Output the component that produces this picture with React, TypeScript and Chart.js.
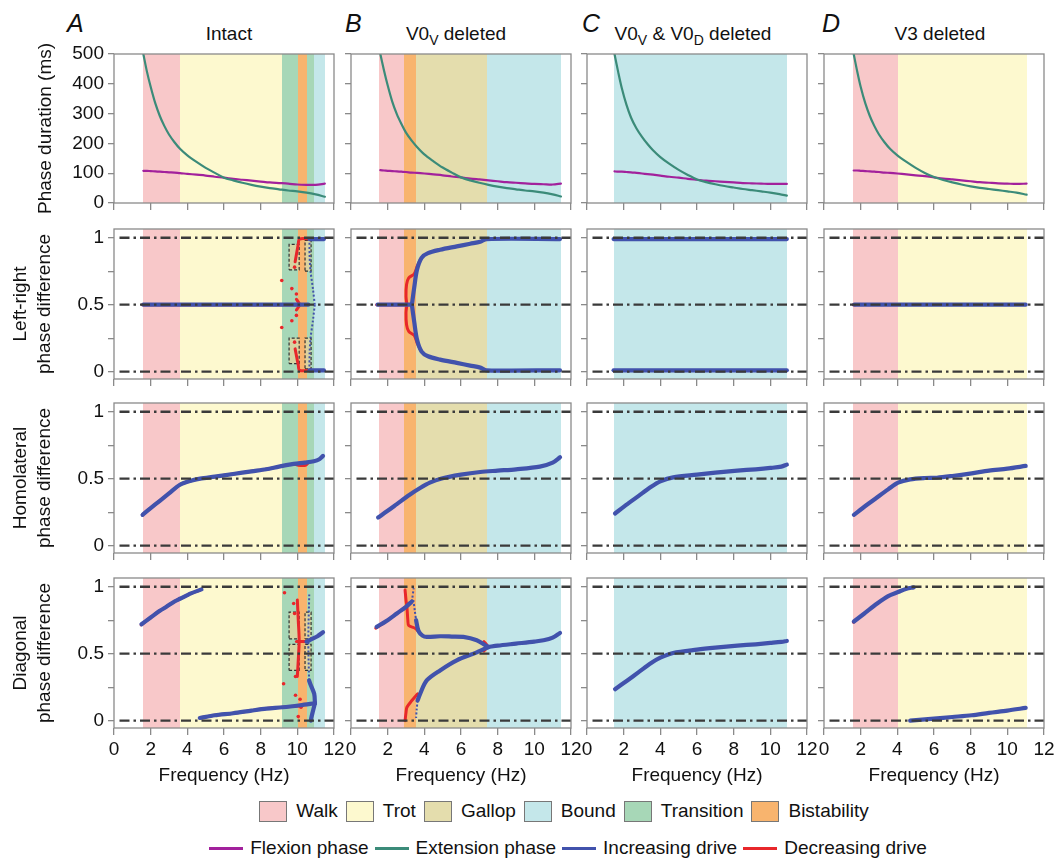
import React, { useEffect, useRef } from "react";
import { Chart, registerables } from "chart.js";

Chart.register(...registerables);
const FONT = "'Liberation Sans', Arial, Helvetica, sans-serif";
Chart.defaults.font.family = FONT;
Chart.defaults.color = "#111";

type Pt = [number, number];
type Band = [number, number, string];
type Box = [number, number, number, number];

// ---------------- axis ticks ----------------
const FREQ_TICKS = [0, 2, 4, 6, 8, 10, 12];
const FREQ_TICK_LABELS = ["0", "2", "4", "6", "8", "10", "12"];
const DURATION_TICKS = [0, 100, 200, 300, 400, 500];
const DURATION_TICK_LABELS = ["0", "100", "200", "300", "400", "500"];
const PHASE_TICKS = [0, 0.25, 0.5, 0.75, 1];
const PHASE_TICK_LABELS = ["0", "", "0.5", "", "1"];
const REFERENCE_LEVELS = [0, 0.5, 1];
const REFERENCE_START_HZ = 0.3;

const ROW_TITLES = [
  ["Phase duration (ms)"],
  ["Left-right", "phase difference"],
  ["Homolateral", "phase difference"],
  ["Diagonal", "phase difference"],
];
const COLUMN_LETTERS = ["A", "B", "C", "D"];
const GAITS = ["Walk", "Trot", "Gallop", "Bound", "Transition", "Bistability"];
const LINE_LEGEND = ["Flexion phase", "Extension phase", "Increasing drive", "Decreasing drive"];

// ---------------- gait regions (Hz) ----------------
const BANDS_A: Band[] = [[1.6, 3.6, "Walk"], [3.6, 9.15, "Trot"], [9.15, 10.05, "Transition"], [10.05, 10.5, "Bistability"], [10.5, 10.9, "Transition"], [10.9, 11.5, "Bound"]];
const BANDS_B: Band[] = [[1.55, 2.9, "Walk"], [2.9, 3.55, "Bistability"], [3.55, 7.43, "Gallop"], [7.43, 11.45, "Bound"]];
const BANDS_C: Band[] = [[1.45, 10.92, "Bound"]];
const BANDS_D: Band[] = [[1.6, 4.02, "Walk"], [4.02, 11.05, "Trot"]];

// ---------------- phase durations (ms) ----------------
const DUR_FREQ_A = [1.6, 1.8, 2.0, 2.25, 2.5, 2.75, 3.0, 3.3, 3.6, 4.0, 4.5, 5.0, 5.5, 6.0, 6.5, 7.0, 7.5, 8.0, 8.5, 9.0, 9.5, 10.0, 10.5, 11.0, 11.5];
const EXT_A = [500, 440, 390, 335, 292, 258, 230, 204, 182, 160, 138, 118, 101, 85, 76, 68, 61, 55, 50, 46, 42, 39, 35, 29, 21];
const FLEX_A = [108, 108, 107, 106, 105, 104, 103, 102, 100, 98, 95, 92, 88, 85, 81, 78, 75, 72, 69, 67, 65, 62, 61, 61, 65];
const DUR_FREQ_B = [1.6, 1.8, 2.0, 2.25, 2.5, 2.75, 3.0, 3.3, 3.6, 4.0, 4.5, 5.0, 5.5, 6.0, 6.5, 7.0, 7.5, 8.0, 8.5, 9.0, 9.5, 10.0, 10.5, 11.0, 11.45];
const EXT_B = [500, 445, 395, 340, 298, 265, 236, 210, 188, 163, 140, 119, 102, 86, 76, 68, 61, 55, 50, 46, 42, 39, 35, 29, 22];
const FLEX_B = [110, 109, 108, 107, 106, 105, 104, 102, 101, 99, 96, 93, 89, 86, 82, 79, 76, 73, 70, 68, 66, 64, 63, 62, 65];
const DUR_FREQ_C = [1.5, 1.7, 1.9, 2.15, 2.4, 2.7, 3.0, 3.3, 3.6, 4.0, 4.5, 5.0, 5.5, 6.0, 6.5, 7.0, 7.5, 8.0, 8.5, 9.0, 9.5, 10.0, 10.5, 10.9];
const EXT_C = [500, 440, 385, 330, 287, 250, 222, 198, 177, 154, 131, 111, 94, 79, 70, 63, 57, 52, 47, 43, 39, 35, 30, 25];
const FLEX_C = [106, 105, 105, 104, 103, 101, 99, 97, 95, 92, 88, 85, 81, 78, 75, 73, 71, 69, 67, 66, 65, 64, 64, 64];
const DUR_FREQ_D = [1.62, 1.8, 2.0, 2.25, 2.5, 2.75, 3.0, 3.3, 3.6, 4.0, 4.5, 5.0, 5.5, 6.0, 6.5, 7.0, 7.5, 8.0, 8.5, 9.0, 9.5, 10.0, 10.5, 11.05];
const EXT_D = [500, 445, 390, 335, 292, 258, 230, 204, 182, 160, 138, 118, 101, 87, 77, 69, 62, 56, 51, 47, 43, 39, 35, 28];
const FLEX_D = [109, 109, 108, 107, 106, 105, 104, 102, 101, 99, 96, 93, 90, 86, 82, 79, 76, 73, 70, 68, 66, 65, 64, 65];

// ---------------- left-right phase difference ----------------
const LR_A_INC_MAIN: Pt[] = [[1.6, 0.5], [10.6, 0.5]];
const LR_A_INC_UP: Pt[] = [[10.95, 0.5], [10.85, 0.62], [10.72, 0.75], [10.67, 0.86], [10.66, 0.98]];
const LR_A_INC_DN: Pt[] = [[10.95, 0.5], [10.85, 0.38], [10.72, 0.25], [10.67, 0.14], [10.66, 0.02]];
const LR_A_INC_TOP: Pt[] = [[10.66, 0.99], [11.45, 0.99]];
const LR_A_INC_BOT: Pt[] = [[10.66, 0.01], [11.45, 0.01]];
const LR_A_DEC_MAIN: Pt[] = [[1.55, 0.5], [10.1, 0.5]];
const LR_A_DEC_TIP: Pt[] = [[9.95, 0.54], [10.12, 0.5], [9.95, 0.46]];
const LR_A_DEC_TOP: Pt[] = [[9.88, 0.82], [10.05, 0.95], [10.12, 0.99], [10.75, 0.99]];
const LR_A_DEC_BOT: Pt[] = [[9.88, 0.17], [10.05, 0.05], [10.12, 0.01], [10.75, 0.01]];
const LR_A_DEC_DOTS: Pt[] = [[9.15, 0.68], [9.7, 0.62], [9.95, 0.58], [9.95, 0.42], [9.7, 0.38], [9.15, 0.33], [9.85, 0.78], [9.85, 0.22]];
const LR_A_BOXES: Box[] = [[9.55, 10.1, 0.76, 0.95], [10.42, 10.75, 0.75, 0.98], [9.55, 10.1, 0.06, 0.25], [10.42, 10.75, 0.02, 0.25]];

const LR_B_INC_MAIN: Pt[] = [[1.45, 0.5], [3.32, 0.5]];
const LR_B_INC_UP: Pt[] = [[3.32, 0.5], [3.45, 0.63], [3.6, 0.76], [3.85, 0.85], [4.2, 0.885], [4.86, 0.91], [5.77, 0.935], [6.5, 0.955], [7.05, 0.97], [7.4, 0.99], [11.4, 0.99]];
const LR_B_INC_DN: Pt[] = [[3.32, 0.5], [3.45, 0.37], [3.6, 0.24], [3.85, 0.15], [4.2, 0.115], [4.86, 0.09], [5.77, 0.065], [6.5, 0.045], [7.05, 0.03], [7.4, 0.01], [11.4, 0.01]];
const LR_B_DEC_MAIN: Pt[] = [[1.4, 0.5], [3.05, 0.5]];
const LR_B_DEC_UP: Pt[] = [[3.05, 0.5], [3.0, 0.56], [3.03, 0.65], [3.15, 0.7], [3.45, 0.73], [3.62, 0.79], [3.8, 0.84]];
const LR_B_DEC_DN: Pt[] = [[3.05, 0.5], [3.0, 0.44], [3.03, 0.35], [3.15, 0.3], [3.45, 0.27], [3.62, 0.21], [3.8, 0.16]];

const LR_C_INC_UP: Pt[] = [[1.45, 0.99], [10.9, 0.99]];
const LR_C_INC_DN: Pt[] = [[1.45, 0.01], [10.9, 0.01]];

const LR_D_INC: Pt[] = [[1.65, 0.5], [11.0, 0.5]];
const LR_D_DEC: Pt[] = [[1.6, 0.5], [1.7, 0.5]];

// ---------------- homolateral phase difference ----------------
const HOMO_A: Pt[] = [[1.56, 0.23], [2.0, 0.28], [2.5, 0.335], [3.0, 0.39], [3.6, 0.455], [4.2, 0.485], [4.7, 0.5], [5.5, 0.515], [6.5, 0.535], [7.5, 0.555], [8.3, 0.57], [9.0, 0.59], [9.8, 0.61], [10.4, 0.62], [10.9, 0.63], [11.2, 0.645], [11.4, 0.67]];
const HOMO_A_DEC: Pt[] = [[1.55, 0.23], [2.0, 0.28], [2.5, 0.335], [3.0, 0.39], [3.6, 0.455], [4.2, 0.485], [4.7, 0.5], [5.5, 0.515], [6.5, 0.535], [7.5, 0.555], [8.3, 0.57], [9.0, 0.59], [9.8, 0.61], [10.05, 0.6], [10.45, 0.6], [10.6, 0.62]];
const HOMO_B: Pt[] = [[1.48, 0.21], [2.0, 0.26], [2.5, 0.31], [3.2, 0.38], [3.77, 0.43], [4.3, 0.47], [4.9, 0.5], [6.0, 0.53], [7.05, 0.55], [8.0, 0.56], [9.0, 0.57], [10.3, 0.59], [11.0, 0.62], [11.4, 0.66]];
const HOMO_C: Pt[] = [[1.53, 0.24], [2.2, 0.31], [2.8, 0.37], [3.5, 0.44], [4.0, 0.48], [4.7, 0.51], [6.0, 0.53], [7.0, 0.545], [8.2, 0.56], [9.2, 0.57], [10.0, 0.58], [10.6, 0.59], [10.9, 0.605]];
const HOMO_D: Pt[] = [[1.63, 0.23], [2.2, 0.29], [2.8, 0.35], [3.5, 0.42], [4.04, 0.47], [4.7, 0.495], [5.5, 0.505], [6.16, 0.507], [7.0, 0.52], [8.06, 0.54], [9.0, 0.56], [10.0, 0.575], [11.0, 0.595]];

// ---------------- diagonal phase difference ----------------
const DIAG_A_UP: Pt[] = [[1.5, 0.72], [2.0, 0.77], [2.5, 0.82], [2.86, 0.85], [3.3, 0.89], [3.6, 0.91], [4.2, 0.95], [4.77, 0.98]];
const DIAG_A_LOW: Pt[] = [[4.68, 0.02], [5.5, 0.04], [6.5, 0.055], [7.5, 0.075], [8.32, 0.09], [9.2, 0.1], [10.15, 0.115], [10.96, 0.13]];
const DIAG_A_HOOK_DN: Pt[] = [[10.96, 0.13], [10.85, 0.07], [10.76, 0.02], [10.74, 0.0]];
const DIAG_A_HOOK_UP: Pt[] = [[10.96, 0.13], [10.92, 0.2], [10.72, 0.27], [10.64, 0.3]];
const DIAG_A_VERT: Pt[] = [[10.64, 0.3], [10.6, 0.6], [10.65, 0.95]];
const DIAG_A_RIGHT: Pt[] = [[10.5, 0.59], [10.8, 0.61], [11.1, 0.63], [11.4, 0.66]];
const DIAG_A_DEC_UP: Pt[] = [[1.48, 0.715], [2.0, 0.77], [2.5, 0.82], [2.86, 0.85], [3.3, 0.89], [3.6, 0.91], [4.2, 0.95], [4.7, 0.975]];
const DIAG_A_DEC_LOW: Pt[] = [[4.7, 0.02], [5.5, 0.04], [6.5, 0.055], [7.5, 0.075], [8.32, 0.09], [9.2, 0.1], [10.1, 0.11]];
const DIAG_A_DEC_VERT: Pt[] = [[10.0, 0.9], [10.05, 0.75], [10.1, 0.6], [10.05, 0.45], [10.0, 0.33]];
const DIAG_A_DEC_HORZ: Pt[] = [[9.95, 0.59], [10.55, 0.59]];
const DIAG_A_DEC_DOTS: Pt[] = [[9.3, 0.955], [9.8, 0.875], [9.85, 0.8], [9.9, 0.33], [9.25, 0.275], [9.9, 0.19], [10.15, 0.16], [10.2, 0.1], [10.05, 0.03]];
const DIAG_A_BOXES: Box[] = [[9.55, 10.1, 0.61, 0.81], [10.42, 10.75, 0.61, 0.81], [9.55, 10.1, 0.375, 0.57], [10.42, 10.75, 0.375, 0.57]];

const DIAG_B_UP: Pt[] = [[1.4, 0.7], [2.0, 0.75], [2.5, 0.8], [3.0, 0.85], [3.32, 0.89]];
const DIAG_B_UP_TAIL: Pt[] = [[3.32, 0.89], [3.42, 0.99]];
const DIAG_B_DROP: Pt[] = [[3.4, 0.9], [3.48, 0.82], [3.55, 0.75]];
const DIAG_B_MID: Pt[] = [[3.55, 0.75], [3.68, 0.67], [3.9, 0.635], [4.13, 0.625], [4.86, 0.63], [5.5, 0.628], [6.13, 0.625], [6.86, 0.6], [7.3, 0.565], [7.5, 0.55]];
const DIAG_B_RIGHT: Pt[] = [[7.5, 0.55], [8.0, 0.56], [9.0, 0.575], [10.0, 0.59], [10.5, 0.6], [11.0, 0.62], [11.4, 0.655]];
const DIAG_B_LOWER: Pt[] = [[7.5, 0.55], [6.86, 0.51], [5.77, 0.45], [4.86, 0.375], [4.13, 0.3], [3.77, 0.2], [3.63, 0.15]];
const DIAG_B_LOWER_TAIL: Pt[] = [[3.63, 0.15], [3.58, 0.08], [3.55, 0.02]];
const DIAG_B_DEC_LEFT: Pt[] = [[1.35, 0.69], [2.0, 0.75], [2.5, 0.8], [3.0, 0.85], [3.3, 0.885]];
const DIAG_B_DEC_UPPER: Pt[] = [[2.95, 0.975], [3.0, 0.9], [3.05, 0.85], [3.1, 0.75], [3.15, 0.71], [3.5, 0.69], [3.7, 0.66]];
const DIAG_B_DEC_LOWER: Pt[] = [[2.95, 0.0], [3.0, 0.06], [3.05, 0.1], [3.32, 0.15], [3.63, 0.2]];
const DIAG_B_DEC_NOTCH: Pt[] = [[7.25, 0.59], [7.45, 0.555], [7.25, 0.52]];

const DIAG_C: Pt[] = [[1.53, 0.235], [2.2, 0.3], [2.8, 0.36], [3.5, 0.43], [4.0, 0.47], [4.7, 0.505], [6.0, 0.53], [7.0, 0.545], [8.2, 0.56], [9.2, 0.57], [10.0, 0.58], [10.6, 0.588], [10.9, 0.595]];
const DIAG_D_UP: Pt[] = [[1.63, 0.74], [2.2, 0.8], [2.9, 0.875], [3.5, 0.93], [4.04, 0.96], [4.5, 0.985], [4.89, 0.995]];
const DIAG_D_LOW: Pt[] = [[4.7, 0.0], [6.0, 0.015], [7.0, 0.027], [8.06, 0.04], [9.0, 0.058], [10.0, 0.075], [11.0, 0.095]];
const DIAG_D_DEC: Pt[] = [[1.6, 0.735], [1.7, 0.745]];

// ---------------- styles ----------------
const BAND_COLORS: Record<string, string> = {
  Walk: "#f8c8c9",
  Trot: "#fdf9cf",
  Gallop: "#e4ddad",
  Bound: "#c4e7ea",
  Transition: "#a7d7b7",
  Bistability: "#f8b46e",
};
const FLEX_COLOR = "#a2219c";
const EXT_COLOR = "#3b8b79";
const INC_COLOR = "#4152ac";
const DEC_COLOR = "#e8272b";
const REF_COLOR = "#3a3a3a";
const FRAME_COLOR = "#8a8a8a";
const TEXT_COLOR = "#111";

const COL_LEFT = [114, 351, 587, 824];
const PLOT_W = 220;
const ROW_TOP = [54, 229, 403, 578];
const ROW_H = [149, 150, 150, 150];
const PHASE_MIN = -0.055;
const PHASE_MAX = 1.065;
const PAD_TOP = 18;
const PAD_RIGHT = 16;

type Kind = "inc" | "incDot" | "dec" | "decDot" | "flex" | "ext";
interface Series { pts: Pt[]; kind: Kind }
interface PanelSpec { bands: Band[]; series: Series[]; boxes: Box[] }

const zip = (xs: number[], ys: number[]): Pt[] => xs.map((x, i) => [x, ys[i]] as Pt);
const S = (pts: Pt[], kind: Kind): Series => ({ pts, kind });

const PANELS: PanelSpec[][] = [
  [
    { bands: BANDS_A, boxes: [], series: [S(zip(DUR_FREQ_A, EXT_A), "ext"), S(zip(DUR_FREQ_A, FLEX_A), "flex")] },
    { bands: BANDS_B, boxes: [], series: [S(zip(DUR_FREQ_B, EXT_B), "ext"), S(zip(DUR_FREQ_B, FLEX_B), "flex")] },
    { bands: BANDS_C, boxes: [], series: [S(zip(DUR_FREQ_C, EXT_C), "ext"), S(zip(DUR_FREQ_C, FLEX_C), "flex")] },
    { bands: BANDS_D, boxes: [], series: [S(zip(DUR_FREQ_D, EXT_D), "ext"), S(zip(DUR_FREQ_D, FLEX_D), "flex")] },
  ],
  [
    {
      bands: BANDS_A, boxes: LR_A_BOXES,
      series: [S(LR_A_INC_MAIN, "inc"), S(LR_A_INC_UP, "incDot"), S(LR_A_INC_DN, "incDot"), S(LR_A_INC_TOP, "inc"), S(LR_A_INC_BOT, "inc"),
        S(LR_A_DEC_MAIN, "dec"), S(LR_A_DEC_TIP, "dec"), S(LR_A_DEC_TOP, "dec"), S(LR_A_DEC_BOT, "dec"), S(LR_A_DEC_DOTS, "decDot")],
    },
    {
      bands: BANDS_B, boxes: [],
      series: [S(LR_B_INC_MAIN, "inc"), S(LR_B_INC_UP, "inc"), S(LR_B_INC_DN, "inc"), S(LR_B_DEC_MAIN, "dec"), S(LR_B_DEC_UP, "dec"), S(LR_B_DEC_DN, "dec")],
    },
    { bands: BANDS_C, boxes: [], series: [S(LR_C_INC_UP, "inc"), S(LR_C_INC_DN, "inc")] },
    { bands: BANDS_D, boxes: [], series: [S(LR_D_INC, "inc"), S(LR_D_DEC, "dec")] },
  ],
  [
    { bands: BANDS_A, boxes: [], series: [S(HOMO_A, "inc"), S(HOMO_A_DEC, "dec")] },
    { bands: BANDS_B, boxes: [], series: [S(HOMO_B, "inc")] },
    { bands: BANDS_C, boxes: [], series: [S(HOMO_C, "inc")] },
    { bands: BANDS_D, boxes: [], series: [S(HOMO_D, "inc")] },
  ],
  [
    {
      bands: BANDS_A, boxes: DIAG_A_BOXES,
      series: [S(DIAG_A_UP, "inc"), S(DIAG_A_LOW, "inc"), S(DIAG_A_HOOK_DN, "inc"), S(DIAG_A_HOOK_UP, "inc"), S(DIAG_A_VERT, "incDot"), S(DIAG_A_RIGHT, "inc"),
        S(DIAG_A_DEC_UP, "dec"), S(DIAG_A_DEC_LOW, "dec"), S(DIAG_A_DEC_VERT, "dec"), S(DIAG_A_DEC_HORZ, "dec"), S(DIAG_A_DEC_DOTS, "decDot")],
    },
    {
      bands: BANDS_B, boxes: [],
      series: [S(DIAG_B_UP, "inc"), S(DIAG_B_UP_TAIL, "incDot"), S(DIAG_B_DROP, "incDot"), S(DIAG_B_MID, "inc"), S(DIAG_B_RIGHT, "inc"), S(DIAG_B_LOWER, "inc"), S(DIAG_B_LOWER_TAIL, "incDot"),
        S(DIAG_B_DEC_LEFT, "dec"), S(DIAG_B_DEC_UPPER, "dec"), S(DIAG_B_DEC_LOWER, "dec"), S(DIAG_B_DEC_NOTCH, "dec")],
    },
    { bands: BANDS_C, boxes: [], series: [S(DIAG_C, "inc")] },
    { bands: BANDS_D, boxes: [], series: [S(DIAG_D_UP, "inc"), S(DIAG_D_LOW, "inc"), S(DIAG_D_DEC, "dec")] },
  ],
];

function seriesDataset(s: Series): any {
  const data = s.pts.map(([x, y]) => ({ x, y }));
  const base: any = { data, pointRadius: 0, tension: 0.3, fill: false, borderCapStyle: "round", borderJoinStyle: "round" };
  switch (s.kind) {
    case "inc":
      return { ...base, borderColor: INC_COLOR, borderWidth: 4.2, order: 1 };
    case "incDot":
      return { ...base, borderColor: INC_COLOR, borderWidth: 2, borderDash: [2, 2], borderCapStyle: "butt", order: 1 };
    case "dec":
      return { ...base, borderColor: DEC_COLOR, borderWidth: 3, order: 2 };
    case "decDot":
      return { ...base, showLine: false, pointRadius: 1.8, pointBackgroundColor: DEC_COLOR, pointBorderWidth: 0, order: 2 };
    case "flex":
      return { ...base, borderColor: FLEX_COLOR, borderWidth: 2.2, order: 1 };
    case "ext":
      return { ...base, borderColor: EXT_COLOR, borderWidth: 2.2, order: 1 };
  }
}

function buildConfig(row: number, col: number, spec: PanelSpec, yW: number, xH: number): any {
  const phase = row > 0;
  const firstCol = col === 0;
  const lastRow = row === 3;
  const datasets: any[] = [];
  if (phase) {
    for (const lv of REFERENCE_LEVELS) {
      datasets.push({
        data: [{ x: REFERENCE_START_HZ, y: lv }, { x: 12, y: lv }],
        borderColor: REF_COLOR, borderWidth: 2.4, borderDash: [10, 4, 2.5, 4], pointRadius: 0, order: 0, fill: false,
      });
    }
  }
  for (const s of spec.series) datasets.push(seriesDataset(s));
  for (const [x1, x2, y1, y2] of spec.boxes) {
    datasets.push({
      data: [{ x: x1, y: y1 }, { x: x2, y: y1 }, { x: x2, y: y2 }, { x: x1, y: y2 }, { x: x1, y: y1 }],
      borderColor: "#333", borderWidth: 1.2, borderDash: [3, 2], pointRadius: 0, tension: 0,
      fill: "shape", backgroundColor: "rgba(222,212,160,0.85)", order: 3,
    });
  }
  const yTicks = phase ? PHASE_TICKS : DURATION_TICKS;
  const yLabels = phase ? PHASE_TICK_LABELS : DURATION_TICK_LABELS;
  const bands = spec.bands;
  const regionPlugin = {
    id: "regions",
    beforeDatasetsDraw(chart: any) {
      const { ctx, chartArea: a, scales } = chart;
      ctx.save();
      for (const [s, e, name] of bands) {
        const x1 = Math.round(scales.x.getPixelForValue(s));
        const x2 = Math.round(scales.x.getPixelForValue(e));
        ctx.fillStyle = BAND_COLORS[name];
        ctx.fillRect(x1, a.top, x2 - x1, a.bottom - a.top);
      }
      ctx.restore();
    },
    afterDraw(chart: any) {
      const { ctx, chartArea: a } = chart;
      ctx.save();
      ctx.strokeStyle = FRAME_COLOR;
      ctx.lineWidth = 1.3;
      ctx.strokeRect(a.left, a.top, a.right - a.left, a.bottom - a.top);
      ctx.restore();
    },
  };
  return {
    type: "line",
    data: { datasets },
    plugins: [regionPlugin],
    options: {
      animation: false,
      responsive: false,
      maintainAspectRatio: false,
      events: [],
      layout: { padding: { top: PAD_TOP, right: PAD_RIGHT, bottom: 0, left: 0 }, autoPadding: false },
      plugins: { legend: { display: false }, tooltip: { enabled: false }, title: { display: false } },
      scales: {
        x: {
          type: "linear", min: 0, max: 12,
          afterBuildTicks: (s: any) => { s.ticks = FREQ_TICKS.map((v) => ({ value: v })); },
          afterFit: (s: any) => { s.height = xH; },
          grid: { display: true, drawOnChartArea: false, drawTicks: true, tickLength: 7, color: FRAME_COLOR, lineWidth: 1.3 },
          border: { display: false },
          ticks: {
            display: lastRow, autoSkip: false, maxRotation: 0, minRotation: 0, padding: 3,
            font: { size: 19 }, color: TEXT_COLOR,
            callback: (v: number) => FREQ_TICK_LABELS[FREQ_TICKS.indexOf(v)] ?? "",
          },
          title: { display: lastRow, text: "Frequency (Hz)", font: { size: 19 }, color: TEXT_COLOR, padding: { top: 0, bottom: 1 } },
        },
        y: {
          type: "linear",
          min: phase ? PHASE_MIN : 0,
          max: phase ? PHASE_MAX : 500,
          afterBuildTicks: (s: any) => { s.ticks = yTicks.map((v) => ({ value: v })); },
          afterFit: (s: any) => { s.width = yW; },
          grid: { display: true, drawOnChartArea: false, drawTicks: true, tickLength: 6, color: FRAME_COLOR, lineWidth: 1.3 },
          border: { display: false },
          ticks: {
            display: firstCol, padding: 4, font: { size: 19 }, color: TEXT_COLOR,
            callback: (v: number) => yLabels[yTicks.indexOf(v)] ?? "",
          },
          title: {
            display: firstCol, text: ROW_TITLES[row], color: TEXT_COLOR,
            font: { size: 19, lineHeight: 1.26 },
            padding: { top: row === 0 ? 34 : 9, bottom: 0 },
          },
        },
      },
    },
  };
}

function Panel({ row, col, spec }: { row: number; col: number; spec: PanelSpec }) {
  const ref = useRef<HTMLCanvasElement>(null);
  const yW = col === 0 ? 114 : 14;
  const xH = row === 3 ? 60 : 18;
  const width = yW + PLOT_W + PAD_RIGHT;
  const height = PAD_TOP + ROW_H[row] + xH;
  const left = COL_LEFT[col] - yW;
  const top = ROW_TOP[row] - PAD_TOP;
  useEffect(() => {
    if (!ref.current) return;
    const chart = new Chart(ref.current, buildConfig(row, col, spec, yW, xH));
    return () => chart.destroy();
  }, [row, col, spec]);
  return <canvas ref={ref} width={width} height={height} style={{ position: "absolute", left, top, width, height }} />;
}

const sub = (t: string) => (
  <span style={{ fontSize: 14, position: "relative", top: 5 }}>{t}</span>
);

const COLUMN_TITLE_NODES = [
  <>Intact</>,
  <>V0{sub("V")} deleted</>,
  <>V0{sub("V")} &amp; V0{sub("D")} deleted</>,
  <>V3 deleted</>,
];
const TITLE_CENTER = [229, 456, 693, 940];
const LETTER_LEFT = [67, 345, 582, 822];

export default function App() {
  return (
    <div style={{ position: "absolute", left: 0, top: 0, width: 1055, height: 858, background: "#fff", fontFamily: FONT, color: TEXT_COLOR, overflow: "hidden" }}>
      {COLUMN_LETTERS.map((l, i) => (
        <div key={l} style={{ position: "absolute", left: LETTER_LEFT[i], top: 11, fontSize: 25, lineHeight: "25px", fontStyle: "italic" }}>{l}</div>
      ))}
      {COLUMN_TITLE_NODES.map((n, i) => (
        <div key={i} style={{ position: "absolute", left: TITLE_CENTER[i] - 120, width: 240, top: 24, fontSize: 19, lineHeight: "19px", textAlign: "center", whiteSpace: "nowrap" }}>{n}</div>
      ))}
      {PANELS.map((r, ri) => r.map((p, ci) => <Panel key={`${ri}-${ci}`} row={ri} col={ci} spec={p} />))}
      <div style={{ position: "absolute", left: 98, width: 932, top: 799, height: 24, display: "flex", alignItems: "center", justifyContent: "center", fontSize: 19 }}>
        {GAITS.map((g, i) => (
          <div key={g} style={{ display: "flex", alignItems: "center", marginLeft: i === 0 ? 0 : 8 }}>
            <div style={{ width: 28, height: 21, background: BAND_COLORS[g], border: "1.5px solid #777", boxSizing: "border-box", marginRight: 9 }} />
            <span>{g}</span>
          </div>
        ))}
      </div>
      <div style={{ position: "absolute", left: 102, width: 932, top: 836, height: 24, display: "flex", alignItems: "center", justifyContent: "center", fontSize: 19 }}>
        {LINE_LEGEND.map((g, i) => (
          <div key={g} style={{ display: "flex", alignItems: "center", marginLeft: i === 0 ? 0 : 6 }}>
            <div style={{ width: 34, height: 3, background: [FLEX_COLOR, EXT_COLOR, INC_COLOR, DEC_COLOR][i], marginRight: 7 }} />
            <span>{g}</span>
          </div>
        ))}
      </div>
    </div>
  );
}
